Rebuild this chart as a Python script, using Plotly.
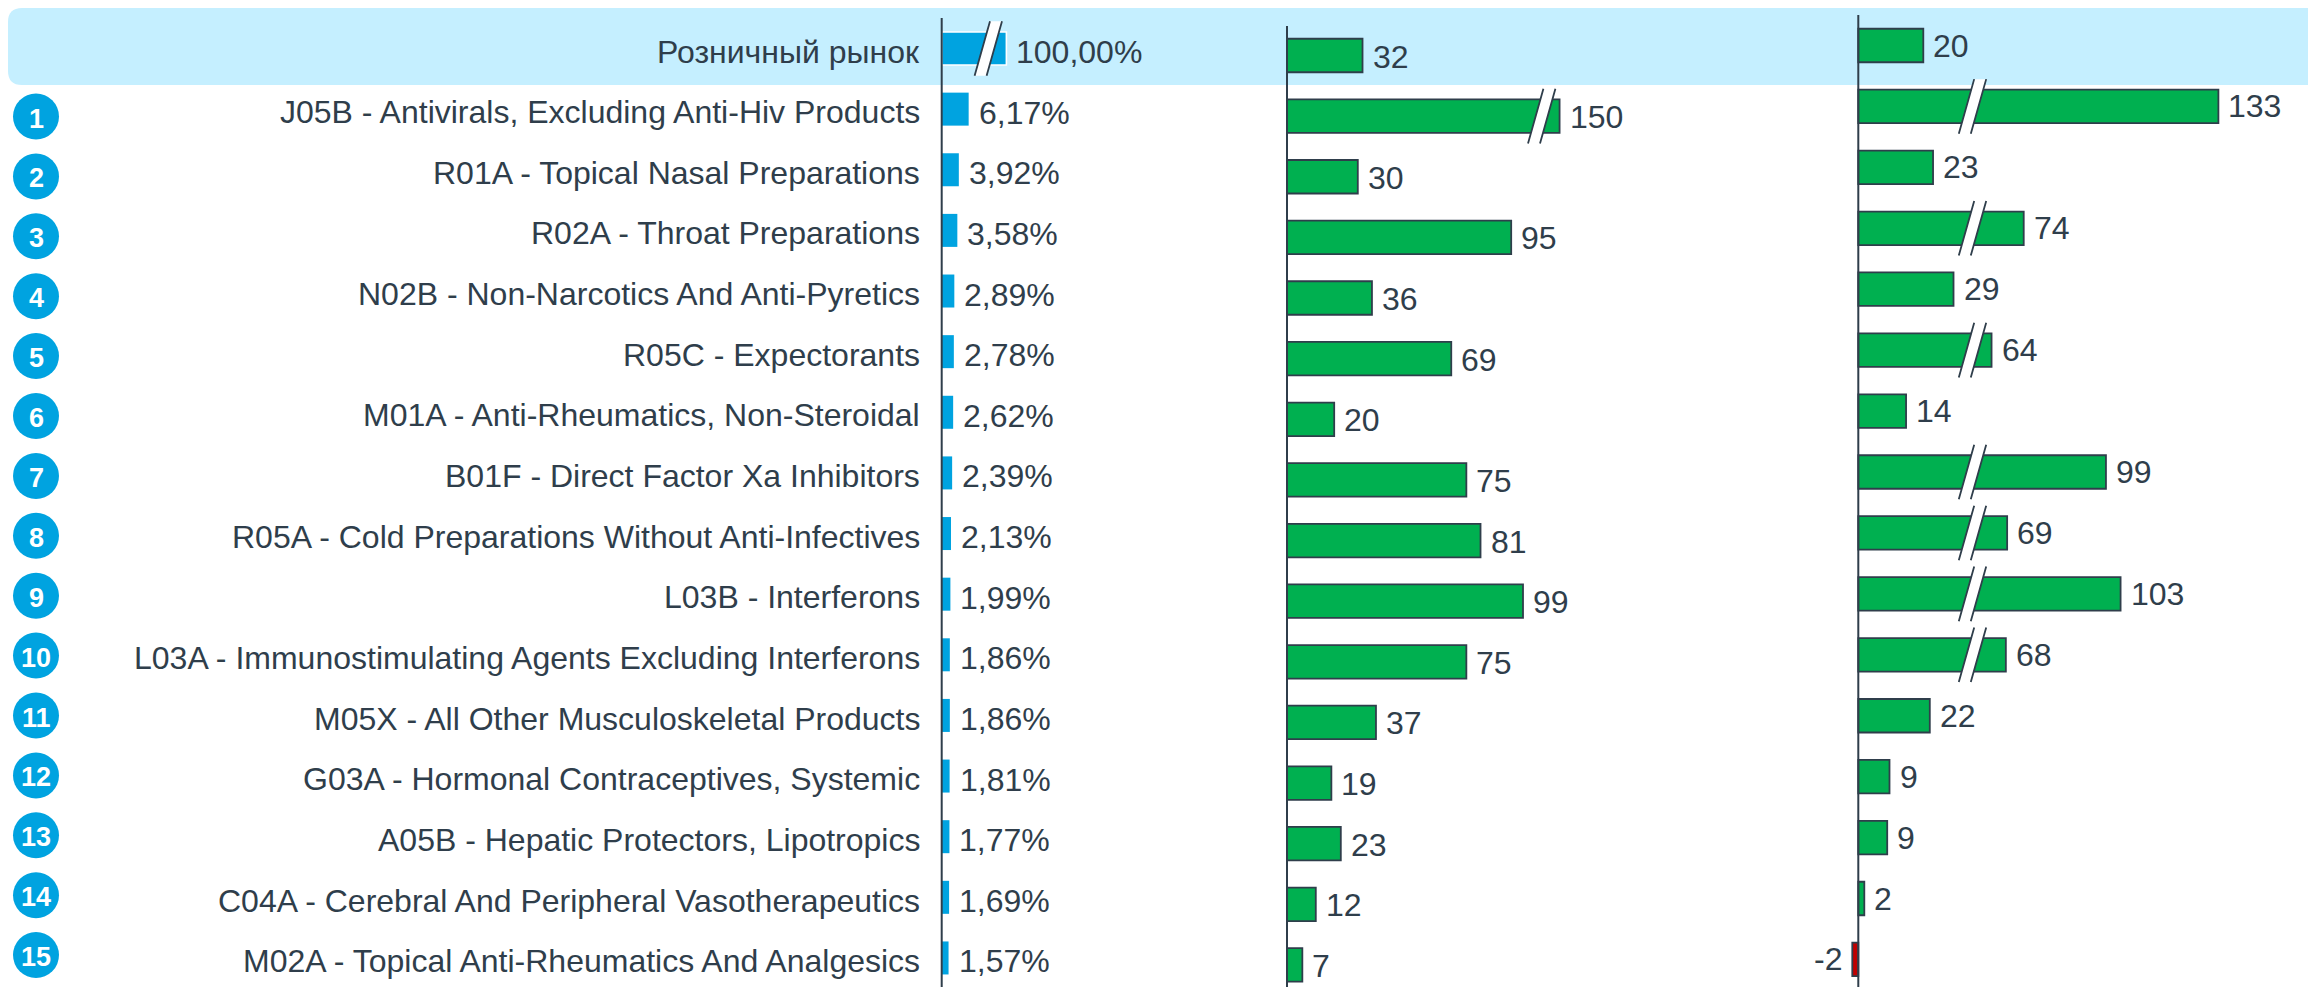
import plotly.graph_objects as go

W, H = 2308, 987
FONT = "Liberation Sans"
TEXT = "#2F3E4B"
BLUE = "#00A3E0"
GREEN = "#00B050"
RED = "#C00000"
BAND = "#C5EFFF"

categories = [
    "Розничный рынок",
    "J05B - Antivirals, Excluding Anti-Hiv Products",
    "R01A - Topical Nasal Preparations",
    "R02A - Throat Preparations",
    "N02B - Non-Narcotics And Anti-Pyretics",
    "R05C - Expectorants",
    "M01A - Anti-Rheumatics, Non-Steroidal",
    "B01F - Direct Factor Xa Inhibitors",
    "R05A - Cold Preparations Without Anti-Infectives",
    "L03B - Interferons",
    "L03A - Immunostimulating Agents Excluding Interferons",
    "M05X - All Other Musculoskeletal Products",
    "G03A - Hormonal Contraceptives, Systemic",
    "A05B - Hepatic Protectors, Lipotropics",
    "C04A - Cerebral And Peripheral Vasotherapeutics",
    "M02A - Topical Anti-Rheumatics And Analgesics",
]
ranks = list(range(1, 16))

share_labels = ["100,00%", "6,17%", "3,92%", "3,58%", "2,89%", "2,78%", "2,62%", "2,39%",
                "2,13%", "1,99%", "1,86%", "1,86%", "1,81%", "1,77%", "1,69%", "1,57%"]
# Broken bars are drawn shorter than their value, so drawn length and label are kept apart.
share_drawn = [14.8, 6.17, 3.92, 3.58, 2.89, 2.78, 2.62, 2.39,
               2.13, 1.99, 1.86, 1.86, 1.81, 1.77, 1.69, 1.57]
mid_labels = [32, 150, 30, 95, 36, 69, 20, 75, 81, 99, 75, 37, 19, 23, 12, 7]
mid_drawn = [32, 115.5, 30, 95, 36, 69.6, 20, 76, 82, 100, 76, 37.7, 18.8, 22.8, 12.2, 6.5]
right_labels = [20, 133, 23, 74, 29, 64, 14, 99, 69, 103, 68, 22, 9, 9, 2, -2]
right_drawn = [20, 110.8, 23, 50.9, 29.3, 41, 14.7, 76.2, 45.8, 80.7, 45.4, 22, 9.6, 8.9, 1.85, -1.85]

rows = list(range(16))


def x_range(left, right, zero, per_unit):
    return [(left - zero) / per_unit, (right - zero) / per_unit]


def y_range(first_center, spacing):
    return [(H - first_center) / spacing, -first_center / spacing]


panels = [
    dict(n=1, zero=941.7, k=4.37, c0=48.5, s=60.63, top=18, left=925, right=1270, h=33,
         drawn=share_drawn, labels=share_labels, gap=8, dy=-3.5,
         breaks=[(0, 46.6 / 4.37)]),
    dict(n=2, zero=1287, k=2.36, c0=55.5, s=60.63, top=26, left=1275, right=1850, h=33.5,
         drawn=mid_drawn, labels=[str(v) for v in mid_labels], gap=8, dy=-1,
         breaks=[(1, 254.7 / 2.36)]),
    dict(n=3, zero=1858.3, k=3.25, c0=45.5, s=60.93, top=15, left=1800, right=2308, h=33.5,
         drawn=right_drawn, labels=[str(v) for v in right_labels], gap=8, dy=0,
         breaks=[(i, 114.2 / 3.25) for i in (1, 3, 5, 7, 8, 9, 10)]),
]

fig = go.Figure()
shapes, annotations = [], []

# Highlight band behind the first row, rounded on the left
r, x0, x1, y0, y1 = 14, 8, W + 5, 8, 85
shapes.append(dict(
    type="path", xref="paper", yref="paper", layer="below", line=dict(width=0), fillcolor=BAND,
    path=(f"M {(x0 + r) / W} {1 - y0 / H} L {x1 / W} {1 - y0 / H} L {x1 / W} {1 - y1 / H} "
          f"L {(x0 + r) / W} {1 - y1 / H} Q {x0 / W} {1 - y1 / H} {x0 / W} {1 - (y1 - r) / H} "
          f"L {x0 / W} {1 - (y0 + r) / H} Q {x0 / W} {1 - y0 / H} {(x0 + r) / W} {1 - y0 / H} Z"),
))

layout_axes = {}
for p in panels:
    n = p["n"]
    sfx = "" if n == 1 else str(n)
    xa, ya = f"x{sfx}", f"y{sfx}"
    layout_axes[f"xaxis{sfx}"] = dict(
        domain=[p["left"] / W, p["right"] / W], anchor=ya, visible=False,
        range=x_range(p["left"], p["right"], p["zero"], p["k"]), fixedrange=True)
    layout_axes[f"yaxis{sfx}"] = dict(
        domain=[0, 1], anchor=xa, visible=False,
        range=y_range(p["c0"], p["s"]), fixedrange=True)

    if n == 1:
        colors = [BLUE] * 16
        line = dict(color=["white"] + [BLUE] * 15, width=[1.6] + [0] * 15)
    else:
        colors = [RED if v < 0 else GREEN for v in p["drawn"]]
        line = dict(color=TEXT, width=1.8)
    fig.add_trace(go.Bar(
        x=p["drawn"], y=rows, orientation="h", width=p["h"] / p["s"],
        marker=dict(color=colors, line=line), xaxis=xa, yaxis=ya,
        showlegend=False, hoverinfo="skip"))

    # value labels
    for i, (v, t) in enumerate(zip(p["drawn"], p["labels"])):
        neg = v < 0
        annotations.append(dict(
            x=v, y=i, xref=xa, yref=ya, text=t, showarrow=False,
            xanchor="right" if neg else "left", xshift=-p["gap"] if neg else p["gap"],
            yshift=p["dy"], font=dict(family=FONT, size=32, color=TEXT)))

    # axis line, above the bars
    shapes.append(dict(type="line", xref=xa, yref="paper", x0=0, x1=0,
                       y0=0, y1=1 - p["top"] / H,
                       line=dict(color=TEXT, width=2), layer="above"))

    # break marks
    for row, bx in p["breaks"]:
        dx, dy, hw = 7.7, 27.3, 6
        common = dict(type="path", xref=xa, yref=ya, xsizemode="pixel", ysizemode="pixel",
                      xanchor=bx, yanchor=row, layer="above")
        shapes.append(dict(common, fillcolor="white", line=dict(width=0),
                           path=f"M {-dx - hw} {-dy} L {dx - hw} {dy} L {dx + hw} {dy} L {-dx + hw} {-dy} Z"))
        shapes.append(dict(common, line=dict(color=TEXT, width=1.8),
                           path=f"M {-dx - hw} {-dy} L {dx - hw} {dy} M {-dx + hw} {-dy} L {dx + hw} {dy}"))

# Category labels and rank circles use their own row axes
layout_axes["xaxis4"] = dict(domain=[0, 1], anchor="y4", visible=False, range=[0, W], fixedrange=True)
layout_axes["yaxis4"] = dict(domain=[0, 1], anchor="x4", visible=False, range=y_range(51.5, 60.65), fixedrange=True)
layout_axes["xaxis5"] = dict(domain=[0, 1], anchor="y5", visible=False, range=[0, W], fixedrange=True)
layout_axes["yaxis5"] = dict(domain=[0, 1], anchor="x5", visible=False, range=y_range(56.6, 59.9), fixedrange=True)

for i, c in enumerate(categories):
    annotations.append(dict(
        x=922, y=i, xref="x4", yref="y4", text=c, showarrow=False, xanchor="right",
        font=dict(family=FONT, size=32, color=TEXT)))

fig.add_trace(go.Scatter(
    x=[36] * len(ranks), y=ranks, xaxis="x5", yaxis="y5", mode="markers",
    marker=dict(size=46, color=BLUE, line=dict(width=0)),
    showlegend=False, hoverinfo="skip"))

for rk in ranks:
    annotations.append(dict(
        x=36, y=rk, xref="x5", yref="y5", text=str(rk), showarrow=False, yshift=-2,
        font=dict(family=FONT, size=27, color="white", weight="bold")))

fig.update_layout(
    width=W, height=H, margin=dict(l=0, r=0, t=0, b=0, pad=0),
    paper_bgcolor="white", plot_bgcolor="rgba(0,0,0,0)",
    barmode="overlay", showlegend=False,
    shapes=shapes, annotations=annotations,
    **layout_axes)

fig.write_html("out.html", config=dict(displayModeBar=False),
               post_script="document.body.style.margin='0';document.body.style.overflow='hidden';")
